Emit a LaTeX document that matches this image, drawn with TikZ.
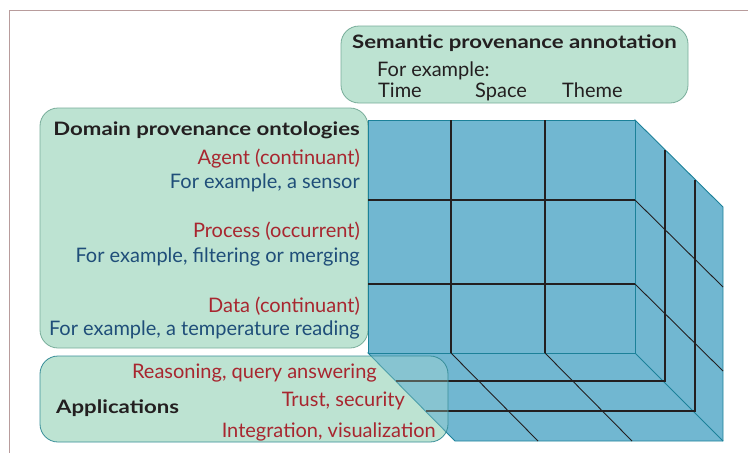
\documentclass[tikz,border=0pt]{standalone}
\usepackage{fontspec}
\setmainfont{Lato}
\newfontfamily\headfont{Lato}[FakeStretch=1.2]
\usetikzlibrary{positioning}

\definecolor{boxgreen}{HTML}{BDE3D2}
\definecolor{boxline}{HTML}{78AD9A}
\definecolor{cubeblue}{HTML}{71B7D1}
\definecolor{cubeline}{HTML}{1C8199}
\definecolor{txtred}{HTML}{A8262F}
\definecolor{txtblue}{HTML}{1F4E79}
\definecolor{txtblack}{HTML}{231F20}
\definecolor{framecol}{HTML}{B89C9C}

\begin{document}
\begin{tikzpicture}[x=1pt,y=-1pt,
	panel/.style={fill=boxgreen,draw=boxline,line width=0.8pt,rounded corners=18pt},
	gridline/.style={line width=1.4pt,draw=txtblack},
	thingrid/.style={line width=0.9pt,draw=txtblack},
	head/.style={inner sep=0pt,text=txtblack,font=\headfont\fontsize{18.5}{20}\selectfont\bfseries},
	redtxt/.style={inner sep=0pt,text=txtred,font=\fontsize{20}{22}\selectfont},
	bluetxt/.style={inner sep=0pt,text=txtblue,font=\fontsize{20}{22}\selectfont},
	plaintxt/.style={inner sep=0pt,text=txtblack,font=\fontsize{20}{22}\selectfont}]
	\useasboundingbox (0,0) rectangle (748,453);
	% frame
	\draw[framecol,line width=0.8pt] (9,453) -- (9,10.5) -- (748,10.5);
	% boxes
	\draw[panel] (341,26) rectangle (688,103);
	\draw[panel] (40,108) rectangle (368,348);
	\fill[boxgreen,rounded corners=18pt] (40,356) rectangle (448,442);
	% cube
	\draw[cubeline,fill=cubeblue,line width=0.9pt] (635,120) -- (723,207) -- (723,441) -- (455,441) -- (368,353) -- (635,353) -- cycle;
	\draw[cubeline,fill=cubeblue,line width=0.9pt] (368,120) rectangle (635,353);
	\draw[cubeline,line width=0.9pt] (635,353) -- (723,441);
	\foreach \x in {451,545}
	  \draw[gridline] (\x,120) -- (\x,353);
	\foreach \y in {200,284}
	  \draw[gridline] (368,\y) -- (635,\y);
	\draw[gridline] (665,150) -- (665,381) -- (396,381);
	\draw[gridline] (695,180) -- (695,411) -- (426,411);
	\draw[thingrid] (635,200) -- (723,287);
	\draw[thingrid] (635,284) -- (723,371);
	\draw[thingrid] (451,353) -- (538,441);
	\draw[thingrid] (545,353) -- (632,441);
	% applications box over the cube
	\draw[panel,draw=cubeline!70!boxline,fill opacity=0.3] (40,356) rectangle (448,442);
	% semantic annotation
	\node[head,anchor=base west] (sem) at (352,48) {Semantic provenance annotation};
	\node[plaintxt,anchor=base west] (forex) at (377,76) {For example:};
	\node[plaintxt,anchor=base west] (time) at (378,97) {Time};
	\node[plaintxt,anchor=base west] (space) at (475,97) {Space};
	\node[plaintxt,anchor=base west] (theme) at (562,97) {Theme};
	% domain ontologies
	\node[head,anchor=base east] (domain) at (360,135) {Domain provenance ontologies};
	\node[redtxt,anchor=base east] (agent) at (360,164) {Agent (continuant)};
	\node[bluetxt,anchor=base east] (agentex) at (360,188) {For example, a sensor};
	\node[redtxt,anchor=base east] (process) at (360,237) {Process (occurrent)};
	\node[bluetxt,anchor=base east] (processex) at (360,262) {For example, filtering or merging};
	\node[redtxt,anchor=base east] (data) at (360,312) {Data (continuant)};
	\node[bluetxt,anchor=base east] (dataex) at (360,335) {For example, a temperature reading};
	% applications
	\node[head,anchor=base west] (apps) at (56,413) {Applications};
	\node[redtxt,anchor=base east] (reason) at (377,378) {Reasoning, query answering};
	\node[redtxt,anchor=base east] (trust) at (405,406) {Trust, security};
	\node[redtxt,anchor=base east] (integr) at (436,437) {Integration, visualization};
\end{tikzpicture}
\end{document}
